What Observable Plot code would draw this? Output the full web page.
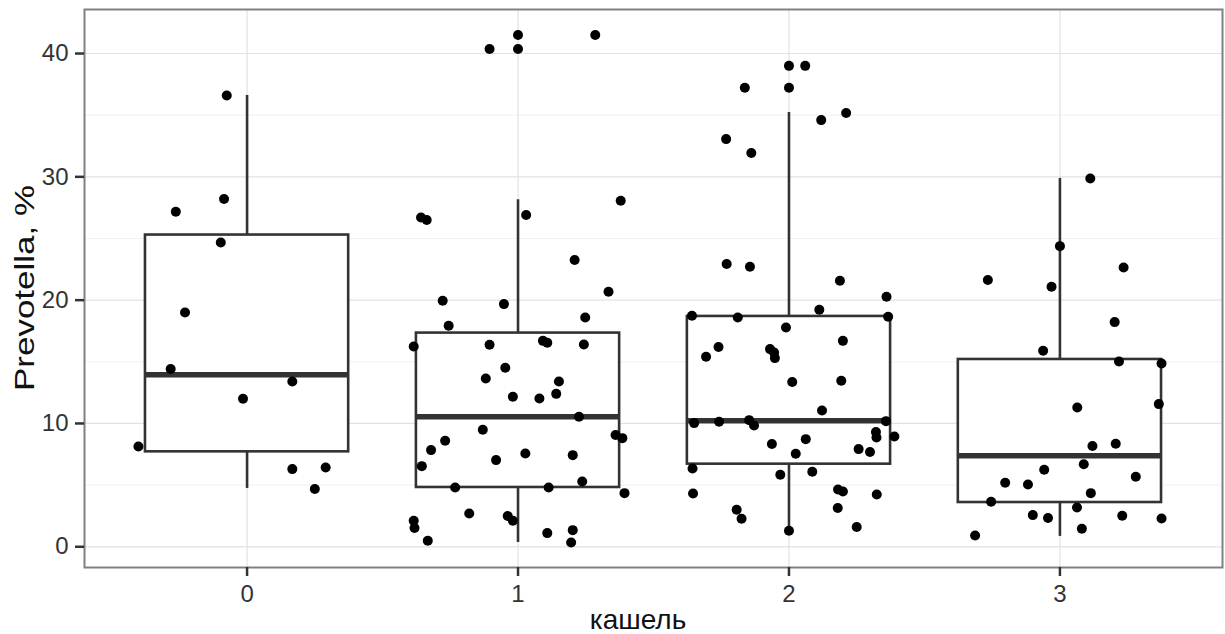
<!DOCTYPE html>
<html>
<head>
<meta charset="utf-8">
<script src="https://cdn.jsdelivr.net/npm/d3@7"></script>
<script src="https://cdn.jsdelivr.net/npm/@observablehq/plot@0.6"></script>
<style>
  html, body { margin: 0; padding: 0; background: #fff; }
</style>
</head>
<body>
<div id="chart"></div>
<script>
// ---- data ----
const categories = [0, 1, 2, 3];
const yTicks = [0, 10, 20, 30, 40];
const yMinorTicks = [5, 15, 25, 35];

// box statistics per category (0,1,2,3)
const boxLower = [4.73, 0.35, 1.3, 0.84];
const boxQ1 = [7.7, 4.81, 6.7, 3.59];
const boxMedian = [13.95, 10.54, 10.22, 7.38];
const boxQ3 = [25.28, 17.33, 18.68, 15.19];
const boxUpper = [36.6, 28.14, 35.22, 29.87];

// outliers (drawn at the category position)
const outliers1 = [41.5, 40.36];
const outliers2 = [39.0, 37.22];

// jittered observations: values and horizontal jitter (in category units)
const cough0Values = [36.6, 28.2, 27.17, 24.68, 19.0, 14.41, 13.4, 12.0, 8.13, 6.3, 6.43, 4.68];
const cough0Jitter = [-0.075, -0.085, -0.263, -0.097, -0.229, -0.282, 0.167, -0.015, -0.401, 0.167, 0.29, 0.25];

const cough1Values = [41.5, 40.36, 26.7, 26.5, 26.9, 28.06, 23.25, 20.68, 19.95, 19.68, 18.6, 17.92, 16.24, 16.38, 16.7, 16.54, 16.4, 14.52, 13.65, 13.4, 12.4, 12.16, 12.03, 10.54, 9.49, 8.6, 7.84, 6.54, 7.03, 7.57, 7.43, 9.06, 8.81, 4.81, 4.81, 5.3, 4.35, 2.7, 2.49, 2.11, 2.11, 1.52, 0.49, 1.11, 1.35, 0.35];
const cough1Jitter = [0.285, -0.105, -0.358, -0.337, 0.03, 0.379, 0.209, 0.334, -0.278, -0.052, 0.248, -0.256, -0.385, -0.105, 0.092, 0.108, 0.243, -0.047, -0.119, 0.151, 0.141, -0.019, 0.079, 0.225, -0.13, -0.269, -0.321, -0.355, -0.081, 0.027, 0.202, 0.36, 0.385, -0.232, 0.113, 0.237, 0.393, -0.18, -0.038, -0.019, -0.385, -0.382, -0.333, 0.108, 0.202, 0.196];

const cough2Values = [39.0, 37.22, 34.6, 35.17, 33.06, 31.93, 22.93, 22.71, 21.57, 20.28, 19.22, 18.73, 18.6, 18.65, 17.78, 16.2, 15.41, 16.03, 15.76, 15.3, 16.7, 13.36, 13.46, 11.05, 10.03, 10.14, 10.27, 9.84, 10.19, 9.3, 8.86, 8.95, 8.73, 8.33, 7.54, 7.92, 7.68, 6.35, 5.84, 6.08, 4.32, 4.65, 4.48, 4.24, 3.0, 2.27, 3.14, 1.6, 1.3];
const cough2Jitter = [0.06, -0.163, 0.119, 0.211, -0.232, -0.139, -0.23, -0.144, 0.188, 0.36, 0.112, -0.358, -0.189, 0.366, -0.011, -0.26, -0.306, -0.07, -0.055, -0.052, 0.199, 0.012, 0.193, 0.122, -0.35, -0.258, -0.147, -0.129, 0.358, 0.321, 0.323, 0.389, 0.062, -0.063, 0.025, 0.257, 0.299, -0.356, -0.032, 0.086, -0.354, 0.181, 0.199, 0.324, -0.193, -0.175, 0.18, 0.25, 0.0];

const cough3Values = [29.87, 24.38, 22.65, 21.63, 21.09, 18.22, 15.9, 15.03, 14.87, 11.3, 11.57, 8.17, 8.35, 6.7, 6.24, 5.19, 5.05, 5.68, 4.35, 3.65, 3.19, 2.57, 2.33, 2.51, 2.3, 1.46, 0.92];
const cough3Jitter = [0.112, 0.0, 0.235, -0.266, -0.031, 0.202, -0.062, 0.218, 0.375, 0.064, 0.365, 0.12, 0.206, 0.088, -0.058, -0.202, -0.118, 0.28, 0.114, -0.254, 0.063, -0.1, -0.044, 0.23, 0.375, 0.081, -0.313];

const xTitle = "кашель";
const yTitle = "Prevotella, %";

// ---- build tables ----
const boxes = categories.map((g, i) => ({
  g, lo: boxLower[i], q1: boxQ1[i], med: boxMedian[i], q3: boxQ3[i], hi: boxUpper[i]
}));
const groupValues = [cough0Values, cough1Values, cough2Values, cough3Values];
const groupJitter = [cough0Jitter, cough1Jitter, cough2Jitter, cough3Jitter];
const points = [];
categories.forEach((g, i) => {
  groupValues[i].forEach((v, j) => points.push({g, value: v, jitter: groupJitter[i][j]}));
});
const outlierPoints = [
  ...outliers1.map(v => ({g: 1, value: v})),
  ...outliers2.map(v => ({g: 2, value: v}))
];

const half = 0.375; // half box width in category units
const dark = "#333333";

const chart = Plot.plot({
  width: 1225,
  height: 634,
  marginLeft: 84,
  marginRight: 3,
  marginTop: 9,
  marginBottom: 67,
  x: {type: "linear", domain: [-0.6, 3.6]},
  y: {domain: [-1.68, 43.57]},
  style: {fontFamily: "'Liberation Sans', Arial, Helvetica, sans-serif", background: "white"},
  marks: [
    Plot.gridY(yMinorTicks, {stroke: "#f3f3f3", strokeOpacity: 1, strokeWidth: 1.2}),
    Plot.gridY(yTicks, {stroke: "#e2e2e2", strokeOpacity: 1, strokeWidth: 1.2}),
    Plot.gridX(categories, {stroke: "#e2e2e2", strokeOpacity: 1, strokeWidth: 1.2}),
    Plot.ruleX(boxes, {x: "g", y1: "q3", y2: "hi", stroke: dark, strokeWidth: 2.6}),
    Plot.ruleX(boxes, {x: "g", y1: "lo", y2: "q1", stroke: dark, strokeWidth: 2.6}),
    Plot.rect(boxes, {x1: d => d.g - half, x2: d => d.g + half, y1: "q1", y2: "q3", fill: "white", stroke: dark, strokeWidth: 2.6}),
    Plot.ruleY(boxes, {y: "med", x1: d => d.g - half, x2: d => d.g + half, stroke: dark, strokeWidth: 5.5}),
    Plot.dot(outlierPoints, {x: "g", y: "value", r: 5, fill: "black"}),
    Plot.dot(points, {x: d => d.g + d.jitter, y: "value", r: 5, fill: "black"}),
    Plot.frame({stroke: "#808080", strokeWidth: 2}),
    Plot.axisY(yTicks, {tickSize: 9, tickPadding: 7, stroke: dark, strokeWidth: 2.5, fill: "#333", label: null}),
    Plot.axisX(categories, {tickSize: 9, tickPadding: 8, stroke: dark, strokeWidth: 2.5, fill: "#333", tickFormat: d => String(d), label: null})
  ]
});

const svg = d3.select(chart);
// tick label size (inline style)
svg.selectAll("text").style("font-size", "24px");

svg.append("text")
  .attr("transform", "translate(24,288) rotate(-90)")
  .attr("text-anchor", "middle")
  .attr("dominant-baseline", "central")
  .style("font-size", "28px")
  .attr("fill", "#111")
  .attr("textLength", 206)
  .attr("lengthAdjust", "spacingAndGlyphs")
  .text(yTitle);
svg.append("text")
  .attr("x", 638)
  .attr("y", 629)
  .attr("text-anchor", "middle")
  .style("font-size", "28px")
  .attr("fill", "#111")
  .text(xTitle);

document.getElementById("chart").append(chart);
</script>
</body>
</html>
